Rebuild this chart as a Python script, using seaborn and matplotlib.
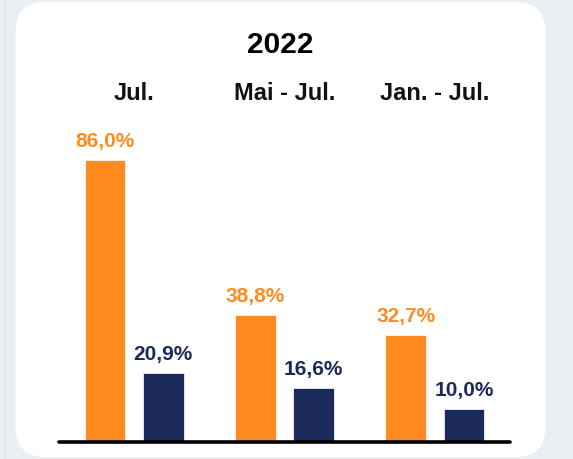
import matplotlib
matplotlib.use("Agg")
import matplotlib.pyplot as plt
from matplotlib.patches import FancyBboxPatch
import seaborn as sns
import pandas as pd

# ---- data ----
title = "2022"
periods = ["Jul.", "Mai - Jul.", "Jan. - Jul."]
series_names = ["Série 1", "Série 2"]
values_orange = [86.0, 38.8, 32.7]
values_navy = [20.9, 16.6, 10.0]

ORANGE = "#FF8A1F"
NAVY = "#1B2A5B"
BG = "#ECEFF1"

df = pd.DataFrame({
    "period": periods * 2,
    "series": [series_names[0]] * 3 + [series_names[1]] * 3,
    "value": values_orange + values_navy,
})

sns.set_theme(style="white")
plt.rcParams["font.family"] = ["Liberation Sans", "DejaVu Sans"]

W, H = 573, 460
fig = plt.figure(figsize=(W / 100, H / 100), dpi=100)
fig.patch.set_facecolor(BG)

# background card (pixel coordinates)
bg = fig.add_axes([0, 0, 1, 1], zorder=0)
bg.set_xlim(0, W)
bg.set_ylim(H, 0)
bg.axis("off")
bg.add_patch(FancyBboxPatch((15.5, 3), 530, 455,
                            boxstyle="round,pad=0,rounding_size=30",
                            facecolor="white", edgecolor="none"))
bg.plot([5, 5], [0, H], color="#DDE2E6", lw=1)

# main axes
ax = fig.add_axes([59 / W, 17 / H, 451 / W, 328.3 / H], zorder=1)
ax.patch.set_alpha(0)
sns.barplot(data=df, x="period", y="value", hue="series",
            order=periods, hue_order=series_names,
            palette=[ORANGE, NAVY], saturation=1, width=0.774, gap=0.30,
            edgecolor="white", linewidth=0.5, legend=False, ax=ax)
ax.set_xlim(-0.5, 2.5)
ax.set_ylim(0, 100)
ax.axhline(0, color="black", lw=2.6, zorder=5, clip_on=False)
for s in ax.spines.values():
    s.set_visible(False)
ax.set_xticks([])
ax.set_yticks([])
ax.set_xlabel("")
ax.set_ylabel("")

# value labels
for cont, color in zip(ax.containers, [ORANGE, NAVY]):
    for bar in cont:
        v = bar.get_height()
        ax.annotate(f"{v:.1f}".replace(".", ",") + "%",
                    (bar.get_x() + bar.get_width() / 2, v),
                    xytext=(0, 10), textcoords="offset points",
                    ha="center", va="baseline", fontsize=15,
                    fontweight="bold", color=color)

# group labels
trans = matplotlib.transforms.blended_transform_factory(ax.transData, fig.transFigure)
for i, p in enumerate(periods):
    ax.text(i, (H - 100) / H, p, transform=trans, ha="center", va="baseline",
            fontsize=17, fontweight="bold", color="#111111")

fig.text(280 / W, (H - 53.3) / H, title, ha="center", va="baseline",
         fontsize=21.5, fontweight="bold", color="#000000")

fig.savefig("out.png", dpi=100, facecolor=fig.get_facecolor())
